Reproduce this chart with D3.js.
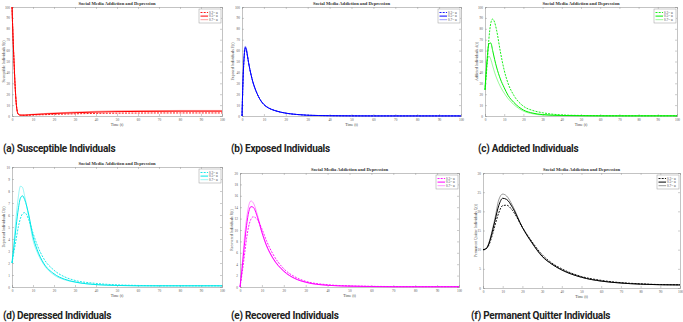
<!DOCTYPE html>
<html>
<head>
<meta charset="utf-8">
<script src="https://cdn.jsdelivr.net/npm/d3@7"></script>
<style>
  body { margin: 0; background: #fff; }
  svg { display: block; }
</style>
</head>
<body>
<svg id="fig" width="683" height="322"></svg>
<script>
// ---- data ----
const tS = [0, 0.5, 1, 1.5, 2, 2.5, 3, 4, 6, 8, 10, 15, 20, 30, 40, 50, 60, 70, 80, 90, 100];
const susA1 = [100, 72, 48, 27, 12, 4.5, 1.8, 0.8, 0.6, 0.7, 0.9, 1.2, 1.5, 2.0, 2.4, 2.6, 2.7, 2.8, 2.8, 2.8, 2.8];
const susA2 = [100, 72, 48, 27, 12, 4.2, 1.6, 0.8, 0.8, 1.0, 1.3, 1.8, 2.3, 3.0, 3.6, 4.0, 4.2, 4.3, 4.4, 4.4, 4.4];
const susA3 = [100, 72, 48, 27, 12, 4.0, 1.5, 0.9, 1.0, 1.3, 1.6, 2.2, 2.8, 3.6, 4.3, 4.7, 4.9, 5.0, 5.1, 5.1, 5.1];

const tE = [0, 0.5, 1, 1.5, 2, 2.5, 3, 4, 5, 6, 8, 10, 12, 15, 20, 25, 30, 40, 50, 60, 80, 100];
const expA1 = [0, 34, 54, 62, 60, 55, 49, 39, 31, 25, 16, 10.5, 7.5, 5, 2.6, 1.4, 0.7, 0.3, 0.15, 0.1, 0.1, 0.1];
const expA2 = [0, 35, 55, 63, 61, 55, 49, 39, 31, 25, 16, 10.5, 7.5, 5, 2.6, 1.4, 0.7, 0.3, 0.15, 0.1, 0.1, 0.1];
const expA3 = [0, 36, 56, 64, 62, 56, 49, 39, 31, 25, 16, 10.5, 7.5, 5, 2.6, 1.4, 0.7, 0.3, 0.15, 0.1, 0.1, 0.1];

const tA = [0, 1, 2, 3, 4, 5, 6, 8, 10, 12, 15, 20, 25, 30, 40, 50, 60, 70, 80, 90, 100];
const addA1 = [24, 45, 70, 85, 89, 86, 79, 59, 42, 30, 19, 9, 5, 3, 1, 0.5, 0.3, 0.2, 0.2, 0.2, 0.2];
const addA2 = [24, 50, 66, 67, 60, 52, 45, 34, 26, 19, 12.5, 5.5, 2.6, 1.3, 0.5, 0.3, 0.2, 0.2, 0.2, 0.2, 0.2];
const addA3 = [24, 48, 55, 52, 46, 40, 35, 27, 21, 16, 10.5, 4.5, 2, 0.9, 0.4, 0.2, 0.1, 0.1, 0.1, 0.1, 0.1];

const tD = [0, 1, 2, 3, 4, 5, 6, 8, 10, 12, 15, 20, 25, 30, 40, 50, 60, 70, 80, 90, 100];
const depA1 = [2, 3.0, 4.0, 5.0, 5.7, 6.1, 6.2, 5.6, 4.5, 3.5, 2.4, 1.4, 0.85, 0.55, 0.3, 0.18, 0.13, 0.1, 0.1, 0.1, 0.1];
const depA2 = [2, 3.5, 5.1, 6.5, 7.4, 7.6, 7.3, 6.0, 4.2, 3.1, 2.0, 1.1, 0.65, 0.42, 0.2, 0.13, 0.1, 0.1, 0.1, 0.1, 0.1];
const depA3 = [2, 3.9, 5.9, 7.5, 8.4, 8.3, 7.6, 5.8, 3.9, 2.9, 1.9, 1.0, 0.6, 0.4, 0.2, 0.12, 0.1, 0.1, 0.1, 0.1, 0.1];

const tR = [0, 1, 2, 3, 4, 5, 6, 8, 10, 12, 15, 20, 25, 30, 40, 50, 60, 70, 80, 90, 100];
const recA1 = [0, 2.5, 5.5, 8.5, 10.7, 11.9, 12.3, 11.8, 10.2, 8.2, 5.8, 3.2, 1.8, 1.0, 0.4, 0.2, 0.12, 0.08, 0.06, 0.06, 0.06];
const recA2 = [0, 3.4, 7.3, 10.8, 13.2, 14.1, 14.0, 12.2, 9.6, 7.4, 5.1, 2.8, 1.5, 0.85, 0.3, 0.15, 0.08, 0.05, 0.05, 0.05, 0.05];
const recA3 = [0, 4.0, 8.5, 12.0, 14.3, 15.1, 14.8, 12.6, 9.6, 7.3, 5.0, 2.7, 1.5, 0.8, 0.3, 0.15, 0.1, 0.05, 0.05, 0.05, 0.05];

const tQ = [0, 1, 2, 3, 4, 5, 6, 8, 10, 12, 15, 20, 25, 30, 35, 40, 50, 60, 70, 80, 90, 100];
const quiA1 = [10, 10.1, 10.4, 11.2, 12.6, 14.3, 16.2, 19.6, 21.5, 21.6, 20.2, 15.8, 12, 8.7, 6.5, 5, 3.0, 2.0, 1.4, 1.1, 0.9, 0.85];
const quiA2 = [10, 10.1, 10.5, 11.6, 13.3, 15.3, 17.4, 21.5, 23.4, 23.1, 21, 15.8, 11.7, 8.3, 6.2, 4.7, 2.8, 1.8, 1.3, 1.0, 0.85, 0.8];
const quiA3 = [10, 10.1, 10.6, 11.8, 13.6, 15.8, 18.0, 23.0, 24.5, 24.0, 21.5, 15.8, 11.6, 8.2, 6.2, 4.7, 2.8, 1.8, 1.3, 1.0, 0.85, 0.8];

const legendA = ["0.2= α", "0.5= α", "0.7= α"];
const legendRest = ["0.3= α", "0.5= α", "0.7= α"];
const xTicks = d3.range(0, 101, 10);

const panels = [
  { box: [12, 7, 222, 116], ymax: 100, ystep: 10, col: "#ff0000", t: tS, s: [susA1, susA2, susA3], leg: legendA,
    yl: "Susceptible Individuals S(t)", ylx: 3.5, cap: "(a) Susceptible Individuals", cx: 3, cy: 152 },
  { box: [242, 7, 461, 116], ymax: 100, ystep: 10, col: "#0000ff", t: tE, s: [expA1, expA2, expA3], leg: legendRest,
    yl: "Exposed Individuals E(t)", ylx: 233, cap: "(b) Exposed Individuals", cx: 231, cy: 152 },
  { box: [485, 7, 677, 116], ymax: 100, ystep: 10, col: "#00ee00", t: tA, s: [addA1, addA2, addA3], leg: legendRest,
    yl: "Addicted Individuals A(t)", ylx: 477, cap: "(c) Addicted Individuals", cx: 478, cy: 152 },
  { box: [12, 167, 222, 287], ymax: 10, ystep: 1, col: "#00e8e8", t: tD, s: [depA1, depA2, depA3], leg: legendRest,
    yl: "Depressed Individuals D(t)", ylx: 3.5, cap: "(d) Depressed Individuals", cx: 3, cy: 319 },
  { box: [240, 173, 459, 287], ymax: 20, ystep: 2, col: "#ff00ff", t: tR, s: [recA1, recA2, recA3], leg: legendRest,
    yl: "Recovered Individuals R(t)", ylx: 232, cap: "(e) Recovered Individuals", cx: 231, cy: 319 },
  { box: [483, 173, 680, 288], ymax: 30, ystep: 5, col: "#000000", t: tQ, s: [quiA1, quiA2, quiA3], leg: legendRest,
    yl: "Permanent Quitter Individuals Q(t)", ylx: 476, cap: "(f) Permanent Quitter Individuals", cx: 471, cy: 319 }
];

const styles = [
  { w: 0.9, dash: "2,1.2", op: 1 },
  { w: 1.0, dash: null, op: 1 },
  { w: 0.5, dash: null, op: 0.8 }
];

const svg = d3.select("#fig");
const serif = "'Liberation Serif', 'DejaVu Serif', serif";

panels.forEach((p) => {
  const [x0, y0, x1, y1] = p.box;
  const x = d3.scaleLinear().domain([0, 100]).range([x0, x1]);
  const y = d3.scaleLinear().domain([0, p.ymax]).range([y1, y0]);
  const yTicks = d3.range(0, p.ymax + p.ystep / 2, p.ystep);
  const g = svg.append("g");

  // axes, matlab style: ticks inward on all four sides
  const bottom = g.append("g").attr("transform", `translate(0,${y1})`)
    .call(d3.axisBottom(x).tickValues(xTicks).tickSize(-2).tickPadding(2.5));
  const top = g.append("g").attr("transform", `translate(0,${y0})`)
    .call(d3.axisTop(x).tickValues(xTicks).tickSize(-2).tickFormat(""));
  const left = g.append("g").attr("transform", `translate(${x0},0)`)
    .call(d3.axisLeft(y).tickValues(yTicks).tickSize(-2).tickPadding(2));
  const right = g.append("g").attr("transform", `translate(${x1},0)`)
    .call(d3.axisRight(y).tickValues(yTicks).tickSize(-2).tickFormat(""));
  [bottom, top, left, right].forEach((a) => {
    a.selectAll("path").attr("stroke", "#9a9a9a").attr("stroke-width", 0.6);
    a.selectAll("line").attr("stroke", "#9a9a9a").attr("stroke-width", 0.5);
    a.selectAll("text").attr("font-family", serif).attr("font-size", 3.4).attr("fill", "#555");
  });

  // curves
  const line = d3.line().x((d) => x(d[0])).y((d) => y(d[1])).curve(d3.curveMonotoneX);
  p.s.forEach((vals, i) => {
    const st = styles[i];
    g.append("path")
      .datum(p.t.map((t, k) => [t, vals[k]]))
      .attr("fill", "none")
      .attr("stroke", p.col)
      .attr("stroke-width", st.w)
      .attr("stroke-opacity", st.op)
      .attr("stroke-dasharray", st.dash)
      .attr("d", line);
  });

  // title
  g.append("text")
    .attr("x", (x0 + x1) / 2).attr("y", y0 - 1.6)
    .attr("text-anchor", "middle")
    .attr("font-family", serif).attr("font-weight", "bold").attr("font-size", 4.6)
    .attr("fill", "#333")
    .text("Social Media Addiction and Depression");

  // axis labels
  g.append("text")
    .attr("x", (x0 + x1) / 2).attr("y", y1 + 9.5)
    .attr("text-anchor", "middle")
    .attr("font-family", serif).attr("font-size", 3.9).attr("fill", "#444")
    .text("Time (t)");
  g.append("text")
    .attr("transform", `translate(${p.ylx + 1.2},${(y0 + y1) / 2}) rotate(-90)`)
    .attr("text-anchor", "middle")
    .attr("font-family", serif).attr("font-size", 3.8).attr("fill", "#444")
    .text(p.yl);

  // legend
  const lw = 22, lh = 14;
  const lx = x1 - lw - 1, ly = y0 + 2;
  const lg = g.append("g");
  lg.append("rect").attr("x", lx).attr("y", ly).attr("width", lw).attr("height", lh)
    .attr("fill", "#fff").attr("stroke", "#9a9a9a").attr("stroke-width", 0.5);
  p.leg.forEach((txt, i) => {
    const st = styles[i];
    const yy = ly + 3.5 + i * 3.6;
    lg.append("line").attr("x1", lx + 1.5).attr("x2", lx + 9).attr("y1", yy).attr("y2", yy)
      .attr("stroke", p.col).attr("stroke-width", st.w).attr("stroke-opacity", st.op)
      .attr("stroke-dasharray", st.dash);
    lg.append("text").attr("x", lx + 10).attr("y", yy + 1.2)
      .attr("font-family", serif).attr("font-size", 3.4).attr("fill", "#444")
      .text(txt);
  });

  // panel caption
  svg.append("text")
    .attr("x", p.cx).attr("y", p.cy)
    .attr("font-family", "'Roboto', 'Liberation Sans', sans-serif")
    .attr("font-weight", "bold").attr("font-size", 10).attr("letter-spacing", -0.25)
    .attr("fill", "#222")
    .text(p.cap);
});
</script>
</body>
</html>
